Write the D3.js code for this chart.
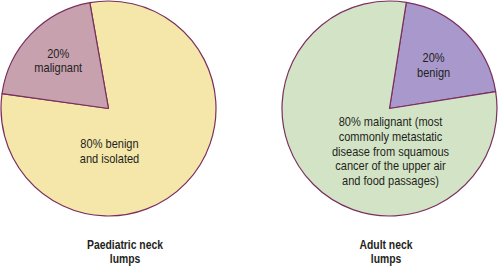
<!DOCTYPE html>
<html>
<head>
<meta charset="utf-8">
<script src="https://cdn.jsdelivr.net/npm/d3@7"></script>
<style>
  body { margin: 0; background: #fff; }
  text { font-family: "Liberation Sans", Arial, sans-serif; fill: #231f20; }
</style>
</head>
<body>
<div id="chart"></div>
<script>
// slice data, first slice is the big one
const paedSlices = [
  { value: 80, label: ["80% benign", "and isolated"], color: "#f5e6aa" },
  { value: 20, label: ["20%", "malignant"], color: "#c7a1ae" }
];
const adultSlices = [
  { value: 20, label: ["20%", "benign"], color: "#a898cb" },
  { value: 80, label: ["80% malignant (most", "commonly metastatic", "disease from squamous", "cancer of the upper air", "and food passages)"], color: "#d3e4c6" }
];
const titles = [["Paediatric neck", "lumps"], ["Adult neck", "lumps"]];

const W = 498, H = 266;
const svg = d3.select("#chart").append("svg")
  .attr("width", W)
  .attr("height", H);

const r = 107.5;
const deg = Math.PI / 180;

// the original type is a condensed sans, so squeeze it a bit
function multiline(parent, x, y, lines, size, sx, bold) {
  const t = parent.append("text")
    .attr("transform", `translate(${x},${y}) scale(${sx},1)`)
    .attr("text-anchor", "middle")
    .attr("font-size", size)
    .attr("font-weight", bold ? "bold" : "normal");
  lines.forEach((l, i) => {
    t.append("tspan")
      .attr("x", 0)
      .attr("y", (i - (lines.length - 1) / 2) * 14.6 + 5)
      .text(l);
  });
}

function drawPie(cx, cy, data, startDeg, labelR, title, titleX) {
  const g = svg.append("g").attr("transform", `translate(${cx},${cy})`);
  const pie = d3.pie().value(d => d.value).sort(null)
    .startAngle(startDeg * deg).endAngle((startDeg + 360) * deg);
  const arcs = pie(data);
  const arc = d3.arc().innerRadius(0).outerRadius(r);
  const labelArc = d3.arc().innerRadius(r * labelR).outerRadius(r * labelR);

  g.selectAll("path").data(arcs).join("path")
    .attr("d", arc)
    .attr("fill", d => d.data.color)
    .attr("stroke", "#7a2f5f")
    .attr("stroke-width", 1.2)
    .attr("stroke-linejoin", "round");

  arcs.forEach(a => {
    // small slices on the centroid, the big ones below the centre
    const p = a.data.value < 50 ? labelArc.centroid(a) : [1, 42];
    multiline(g, p[0], p[1], a.data.label, 13, 0.85, false);
  });

  multiline(svg, titleX, 251, title, 12.8, 0.81, true);
}

drawPie(108.5, 108.5, paedSlices, -10, 0.65, titles[0], 125);
drawPie(389.5, 108.5, adultSlices, 9, 0.58, titles[1], 386);
</script>
</body>
</html>
